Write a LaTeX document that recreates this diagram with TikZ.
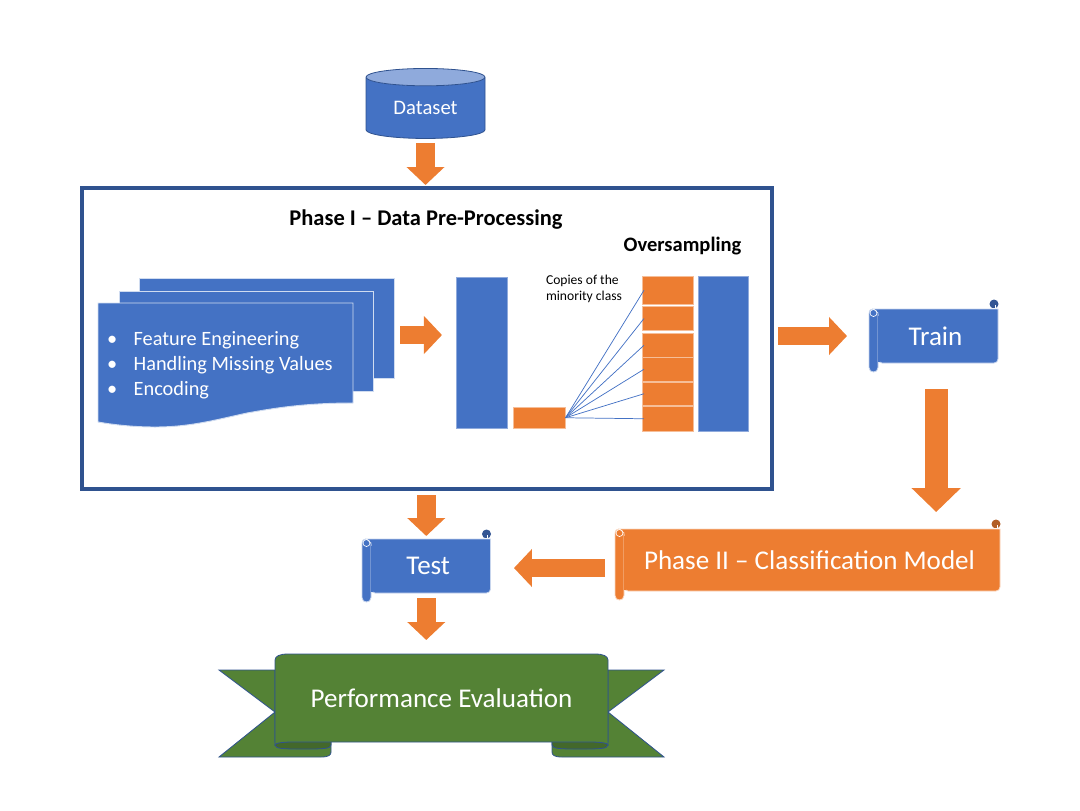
\documentclass[tikz,border=0pt]{standalone}
\usepackage{fontspec}
\setmainfont{Carlito}
\usetikzlibrary{arrows.meta,shapes.geometric,positioning}
\definecolor{blockblue}{HTML}{4472C4}
\definecolor{blockorange}{HTML}{ED7D31}
\definecolor{framedark}{HTML}{2F528F}
\definecolor{ribbongreen}{HTML}{548235}
\definecolor{ribbondark}{HTML}{43682B}
\def\pxl{0.75pt}
\begin{document}
\begin{tikzpicture}[x=\pxl,y=-\pxl]
\tikzset{
	plainbox/.style={inner sep=0pt, outer sep=0pt},
	bluebox/.style={plainbox, fill=blockblue, draw=blockblue!60!white, line width=0.5pt},
	orangebox/.style={plainbox, fill=blockorange, draw=blockorange!50!white, line width=0.5pt},
	sheetpath/.style={fill=blockblue, draw=white!75!blockblue, line width=0.7pt},
	whitelabel/.style={plainbox, text=white},
	blacklabel/.style={plainbox, text=black},
	bigarrow/.style={draw=blockorange, line width=13.9pt, -{Triangle[length=13.5pt,width=27.75pt]}},
	copyline/.style={draw=blockblue, line width=0.55pt},
	ribbonline/.style={draw=framedark, line width=0.6pt}
}
\useasboundingbox (0,0) rectangle (1080,810);

\node[cylinder, shape border rotate=90, aspect=0.27, plainbox, minimum width=119*\pxl, minimum height=70*\pxl,
	cylinder uses custom fill, cylinder body fill=blockblue, cylinder end fill=blockblue!60!white,
	draw=framedark, line width=0.6pt, text=white, font=\fontsize{15.5}{18}\selectfont] (dataset) at (425.5,108) {Dataset};

\node[plainbox, draw=framedark, line width=3pt, minimum width=690*\pxl, minimum height=301*\pxl] (phaseone) at (427,338.5) {};
\node[blacklabel, font=\fontsize{16.85}{20}\selectfont\bfseries] (phasetitle) at (426,220) {Phase I -- Data Pre-Processing};
\node[blacklabel, font=\fontsize{15.4}{18}\selectfont\bfseries] (oversampling) at (682.5,246) {Oversampling};

\node[bluebox, draw=white!75!blockblue, anchor=north west, minimum width=255*\pxl, minimum height=100*\pxl] (sheetthree) at (139,278) {};
\node[bluebox, draw=white!75!blockblue, anchor=north west, minimum width=254*\pxl, minimum height=100*\pxl] (sheettwo) at (119,291) {};
\draw[sheetpath] (98,303) -- (353,303) -- (353,403) .. controls (305,403) and (275,408) .. (247,413)
	.. controls (215,420) and (190,427) .. (155,427) .. controls (135,427) and (115,425) .. (98,422) -- cycle;
\node[whitelabel, anchor=west, align=left, font=\fontsize{15.25}{18.75}\selectfont] (sheetone) at (107,365) {%
	\makebox[20pt][l]{\textbullet}Feature Engineering\\
	\makebox[20pt][l]{\textbullet}Handling Missing Values\\
	\makebox[20pt][l]{\textbullet}Encoding};

\node[bluebox, anchor=north west, minimum width=50.5*\pxl, minimum height=150.5*\pxl] (majority) at (456.5,277.5) {};
\node[orangebox, anchor=north west, minimum width=52*\pxl, minimum height=21.5*\pxl] (minority) at (513.5,407) {};
\node[bluebox, anchor=north west, minimum width=50*\pxl, minimum height=154.5*\pxl] (resampled) at (698,276.5) {};
\node[blacklabel, anchor=north west, align=left, font=\fontsize{10.2}{12}\selectfont] (copylabel) at (546,275) {Copies of the\\minority class};
\foreach \i/\ya/\yb in {1/276/304.5,2/306.5/330.5,3/333.5/357,4/357.5/381,5/382.5/405,6/406.5/431}{
	\node[orangebox, anchor=north west, minimum width=51*\pxl, minimum height=(\yb-\ya)*\pxl] (copy\i) at (642.5,\ya) {};
	\draw[copyline] (minority.east) -- ([xshift=1.1pt]copy\i.west);
}

\foreach \name/\xa/\ya/\xb/\yb/\col/\fs/\txt in {
	train/869/309/998/363/blockblue/20.3/Train,
	test/362/539/490.5/593/blockblue/20.3/Test,
	phasetwo/615/529/1000/591/blockorange/20.3/Phase II -- Classification Model}{
	\fill[\col!75!black] (\xb-4,\ya-5) circle[radius=4.5];
	\draw[white, line width=0.4pt] (\xb-8,\ya-1) -- (\xb-3,\ya-1) -- (\xb-3,\ya-4);
	\draw[fill=\col, draw=white!70!\col, line width=0.6pt] (\xa+4,\ya) -- (\xb,\ya) [rounded corners=3pt] -- (\xb,\yb) -- (\xa+9,\yb) [sharp corners] -- (\xa+9,\ya+4) -- cycle;
	\draw[fill=\col, draw=white!70!\col, line width=0.6pt] (\xa+9,\ya+5) -- (\xa+9,\yb+4.5) .. controls (\xa+9,\yb+10.5) and (\xa,\yb+10.5) .. (\xa,\yb+4.5) -- (\xa,\ya+5)
		.. controls (\xa,\ya+1) and (\xa+2,\ya) .. (\xa+4,\ya);
	\fill[\col] (\xa+9,\ya+7) rectangle (\xa+11,\yb-1);
	\draw[white, line width=0.5pt] (\xa+4.5,\ya+4) circle[radius=3.5];
	\node[whitelabel, minimum width=(\xb-\xa)*\pxl, minimum height=(\yb-\ya)*\pxl, font=\fontsize{\fs}{24}\selectfont] (\name) at ({(\xa+\xb)/2},{(\ya+\yb)/2}) {\hspace{3pt}\raisebox{-1pt}{\txt}};
}

\draw[ribbonline, fill=ribbongreen] (275,670) -- (219,670) -- (275,712) -- (219,757) -- (321,757) .. controls (329,757) and (331,755) .. (331,752) -- (331,742) -- (275,742) -- cycle;
\draw[ribbonline, fill=ribbongreen] (608,670) -- (664,670) -- (608,712) -- (664,757) -- (562,757) .. controls (554,757) and (552,755) .. (552,752) -- (552,742) -- (608,742) -- cycle;
\draw[ribbonline, fill=ribbondark] (275,745) .. controls (275,741) and (285,741) .. (303,741) -- (331,741) -- (331,745) .. controls (331,749) and (321,749) .. (303,749) .. controls (285,749) and (275,749) .. (275,745) -- cycle;
\draw[ribbonline, fill=ribbondark] (608,745) .. controls (608,741) and (598,741) .. (580,741) -- (552,741) -- (552,745) .. controls (552,749) and (562,749) .. (580,749) .. controls (598,749) and (608,749) .. (608,745) -- cycle;
\draw[ribbonline, fill=ribbongreen] (275,660) .. controls (275,656) and (280,654) .. (288,654) -- (595,654) .. controls (603,654) and (608,656) .. (608,660) -- (608,745)
	.. controls (608,743) and (600,742) .. (590,742) -- (293,742) .. controls (283,742) and (275,743) .. (275,745) -- cycle;
\node[whitelabel, minimum width=333*\pxl, minimum height=88*\pxl, font=\fontsize{20.3}{24}\selectfont] (perf) at (441.5,698) {Performance Evaluation};

\draw[bigarrow, shorten <=3.75pt, shorten >=2.25pt] (dataset.south) -- (dataset.south |- phaseone.north);
\draw[bigarrow, shorten <=4.5pt, shorten >=10.9pt] ([yshift=-5.25pt]sheetthree.east) -- ([yshift=-5.25pt]sheetthree.east -| majority.west);
\draw[bigarrow, shorten <=4.5pt, shorten >=16.5pt] (phaseone.east |- train.west) -- (train.west);
\draw[bigarrow, line width=17.25pt, -{Triangle[length=18pt,width=36pt]}, shorten <=19.5pt, shorten >=12.75pt] ([xshift=2pt]train.south) -- ([xshift=2pt]train.south |- phasetwo.north);
\draw[bigarrow, shorten <=7.5pt, shorten >=17.6pt] ([yshift=-6pt]phasetwo.west) -- ([yshift=-6pt]phasetwo.west -| test.east);
\draw[bigarrow, shorten <=4.5pt, shorten >=2.25pt] (test.north |- phaseone.south) -- (test.north);
\draw[bigarrow, shorten <=3.75pt, shorten >=10.5pt] (test.south) -- (test.south |- perf.north);
\end{tikzpicture}
\end{document}
